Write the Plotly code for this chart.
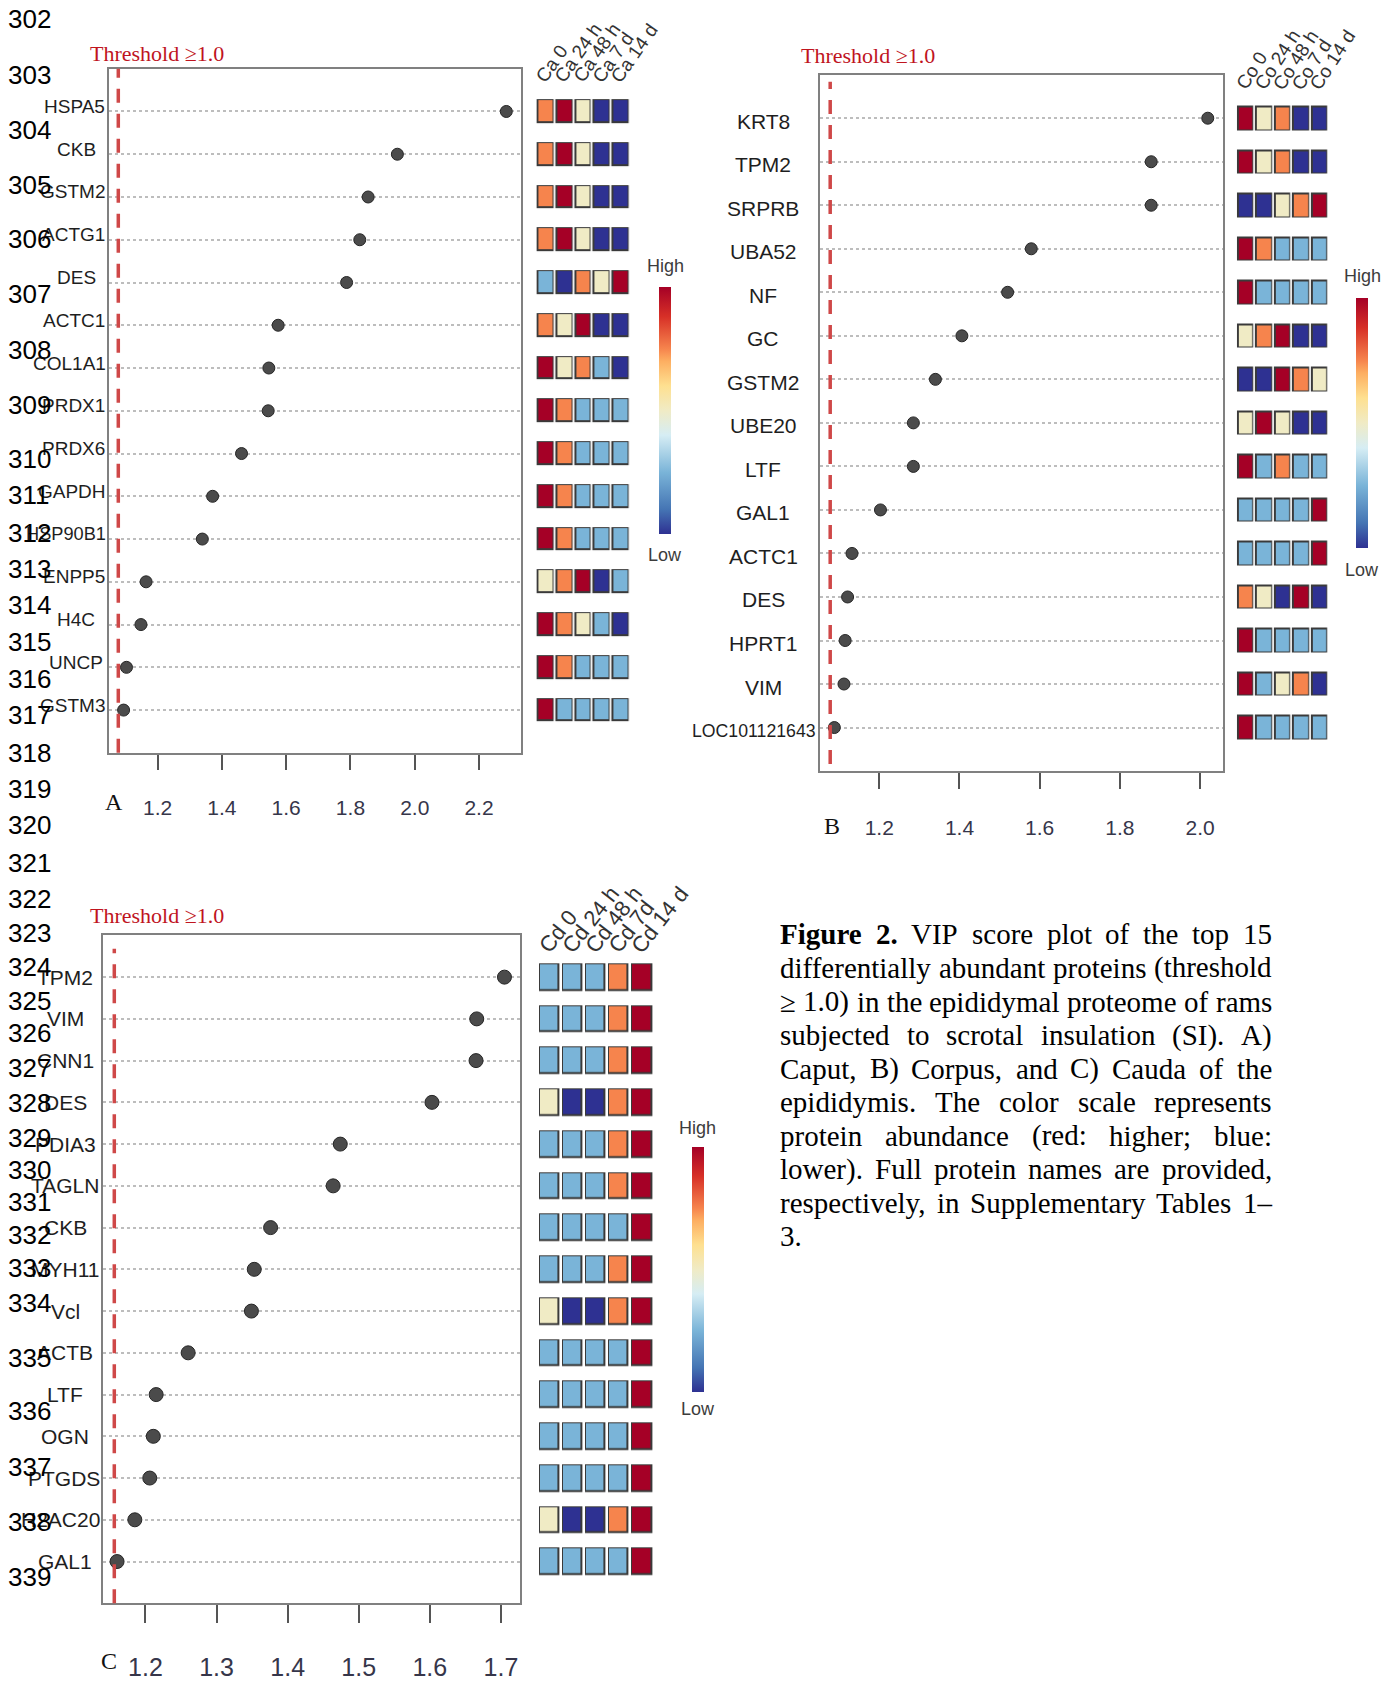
import plotly.graph_objects as go

W, H = 1390, 1681

# ---------------- data ----------------
# abundance levels: -2 lowest (dark blue) ... 2 highest (dark red)
times_caput = ["Ca 0", "Ca 24 h", "Ca 48 h", "Ca 7 d", "Ca 14 d"]
genes_caput = ["HSPA5", "CKB", "GSTM2", "ACTG1", "DES", "ACTC1", "COL1A1", "PRDX1",
               "PRDX6", "GAPDH", "HSP90B1", "ENPP5", "H4C", "UNCP", "GSTM3"]
vip_caput = [2.285, 1.946, 1.855, 1.829, 1.788, 1.575, 1.546, 1.544,
             1.461, 1.371, 1.339, 1.164, 1.148, 1.103, 1.094]
abund_caput = [
    [1, 2, 0, -2, -2], [1, 2, 0, -2, -2], [1, 2, 0, -2, -2], [1, 2, 0, -2, -2],
    [-1, -2, 1, 0, 2], [1, 0, 2, -2, -2], [2, 0, 1, -1, -2], [2, 1, -1, -1, -1],
    [2, 1, -1, -1, -1], [2, 1, -1, -1, -1], [2, 1, -1, -1, -1], [0, 1, 2, -2, -1],
    [2, 1, 0, -1, -2], [2, 1, -1, -1, -1], [2, -1, -1, -1, -1],
]
ticks_caput = [1.2, 1.4, 1.6, 1.8, 2.0, 2.2]

times_corpus = ["Co 0", "Co 24 h", "Co 48 h", "Co 7 d", "Co 14 d"]
genes_corpus = ["KRT8", "TPM2", "SRPRB", "UBA52", "NF", "GC", "GSTM2", "UBE20",
                "LTF", "GAL1", "ACTC1", "DES", "HPRT1", "VIM", "LOC101121643"]
vip_corpus = [2.019, 1.878, 1.878, 1.579, 1.520, 1.406, 1.340, 1.285,
              1.285, 1.203, 1.132, 1.121, 1.115, 1.112, 1.088]
abund_corpus = [
    [2, 0, 1, -2, -2], [2, 0, 1, -2, -2], [-2, -2, 0, 1, 2], [2, 1, -1, -1, -1],
    [2, -1, -1, -1, -1], [0, 1, 2, -2, -2], [-2, -2, 2, 1, 0], [0, 2, 0, -2, -2],
    [2, -1, 1, -1, -1], [-1, -1, -1, -1, 2], [-1, -1, -1, -1, 2], [1, 0, -2, 2, -2],
    [2, -1, -1, -1, -1], [2, -1, 0, 1, -2], [2, -1, -1, -1, -1],
]
ticks_corpus = [1.2, 1.4, 1.6, 1.8, 2.0]

times_cauda = ["Cd 0", "Cd 24 h", "Cd 48 h", "Cd 7d", "Cd 14 d"]
genes_cauda = ["TPM2", "VIM", "CNN1", "DES", "PDIA3", "TAGLN", "CKB", "MYH11",
               "Vcl", "ACTB", "LTF", "OGN", "PTGDS", "H2AC20", "GAL1"]
vip_cauda = [1.705, 1.666, 1.665, 1.603, 1.474, 1.464, 1.376, 1.353,
             1.349, 1.260, 1.215, 1.211, 1.206, 1.185, 1.160]
abund_cauda = [
    [-1, -1, -1, 1, 2], [-1, -1, -1, 1, 2], [-1, -1, -1, 1, 2], [0, -2, -2, 1, 2],
    [-1, -1, -1, 1, 2], [-1, -1, -1, 1, 2], [-1, -1, -1, -1, 2], [-1, -1, -1, 1, 2],
    [0, -2, -2, 1, 2], [-1, -1, -1, -1, 2], [-1, -1, -1, -1, 2], [-1, -1, -1, -1, 2],
    [-1, -1, -1, -1, 2], [0, -2, -2, 1, 2], [-1, -1, -1, -1, 2],
]
ticks_cauda = [1.2, 1.3, 1.4, 1.5, 1.6, 1.7]

threshold_text = "Threshold ≥1.0"

caption_lines = [
    "Figure 2. VIP score plot of the top 15",
    "differentially abundant proteins (threshold",
    "≥ 1.0) in the epididymal proteome of rams",
    "subjected to scrotal insulation (SI). A)",
    "Caput, B) Corpus, and C) Cauda of the",
    "epididymis. The color scale represents",
    "protein abundance (red: higher; blue:",
    "lower). Full protein names are provided,",
    "respectively, in Supplementary Tables 1–",
    "3.",
]
caption_bold_words = 2

line_numbers = list(range(302, 340))
line_number_y = [19.3, 75, 130.8, 185.5, 240, 294.8, 351.6, 406.3, 461, 497.4,
                 535, 571.4, 607.9, 644.3, 681.8, 718.3, 755.8, 792.3, 828.7, 866.2,
                 902.6, 937, 971.3, 1005.6, 1037.8, 1072, 1107.5, 1142.9, 1175, 1207.2,
                 1240.4, 1273.7, 1308, 1363.7, 1417.3, 1473, 1528.8, 1583.4]

# ---------------- styling ----------------
NARROW = "Liberation Sans Narrow, Arial Narrow, Liberation Sans, Arial, sans-serif"
SANS = "Liberation Sans, Arial, sans-serif"
SERIF = "Liberation Serif, Times New Roman, serif"

ABUND_SCALE = [
    [0.0, "#2E3192"], [0.1, "#4575B4"], [0.25, "#7AB4D8"], [0.4, "#D6EDF4"],
    [0.5, "#F0EBC5"], [0.6, "#FEE090"], [0.7, "#FDAE61"], [0.75, "#F6844D"],
    [0.88, "#D73027"], [1.0, "#A50026"],
]

# Arial advance widths (1/1000 em) for sizing the protein names
ARIAL = {"A": 667, "B": 667, "C": 722, "D": 722, "E": 667, "F": 611, "G": 778, "H": 722,
         "I": 278, "J": 500, "K": 667, "L": 556, "M": 833, "N": 722, "O": 778, "P": 667,
         "Q": 778, "R": 722, "S": 667, "T": 611, "U": 722, "V": 667, "W": 944, "X": 667,
         "Y": 667, "Z": 611, "c": 500, "l": 222}


def arial_em(s):
    return sum(556 if ch.isdigit() else ARIAL.get(ch, 600) for ch in s) / 1000


panels = [
    dict(letter="A", genes=genes_caput, vip=vip_caput, abund=abund_caput,
         times=times_caput, ticks=ticks_caput,
         box=(108.5, 521.4, 69, 756), xrange=(1.047, 2.332),
         thr_px=118.3, thr_span=(0.0, 1.0), thr_label=(88.4, 54),
         label_cx=76, label_shift=5, label_fs=19, label_max_w=80, dot=12,
         tile_left=537.3, tile_pitch=18.8, tile_w=17.0, tile_h=24.0,
         cbar=(659, 289, 536), high_y=267, low_y=557,
         col_y=78, col_angle=-55, col_fs=19,
         tick_fs=21, ticklen=15, tick_label_y=805, letter_pos=(113.8, 805)),
    dict(letter="B", genes=genes_corpus, vip=vip_corpus, abund=abund_corpus,
         times=times_corpus, ticks=ticks_corpus,
         box=(819.5, 1222.6, 75, 774.3), xrange=(1.051, 2.056),
         thr_px=830.2, thr_span=(0.01, 0.99), thr_label=(799.4, 56),
         label_cx=763, label_shift=-3, label_fs=21, label_max_w=125, dot=12,
         tile_left=1237.7, tile_pitch=18.4, tile_w=16.7, tile_h=24.7,
         cbar=(1356, 300, 550), high_y=277, low_y=572,
         col_y=85, col_angle=-57, col_fs=19,
         tick_fs=21, ticklen=16, tick_label_y=825, letter_pos=(832, 829)),
    dict(letter="C", genes=genes_cauda, vip=vip_cauda, abund=abund_cauda,
         times=times_cauda, ticks=ticks_cauda,
         box=(102.7, 520.1, 939.3, 1610), xrange=(1.1398, 1.727),
         thr_px=114.3, thr_span=(0.0, 0.98), thr_label=(88.4, 919.3),
         label_cx=65, label_shift=0, label_fs=21, label_max_w=80, dot=14,
         tile_left=539.3, tile_pitch=23.1, tile_w=20.5, tile_h=27.7,
         cbar=(691.5, 1152, 1397), high_y=1133, low_y=1415,
         col_y=951, col_angle=-52, col_fs=22,
         tick_fs=25, ticklen=18, tick_label_y=1667, letter_pos=(109.4, 1668)),
]


def fx(px):
    return px / W


def fy(py):
    return 1 - py / H


fig = go.Figure()
layout = dict(width=W, height=H, margin=dict(l=0, r=0, t=0, b=0),
              paper_bgcolor="white", plot_bgcolor="white", showlegend=False)
annotations = []
shapes = []

for k, p in enumerate(panels):
    sid, hid = 2 * k + 1, 2 * k + 2
    sx = "x" if sid == 1 else f"x{sid}"
    sy = "y" if sid == 1 else f"y{sid}"
    hx, hy = f"x{hid}", f"y{hid}"
    left, right, top, bottom = p["box"]
    n = len(p["genes"])
    row_pitch = (bottom - top) / (n + 1)
    cat_order = list(reversed(p["genes"]))
    ydom = [fy(bottom), fy(top)]

    # VIP dot plot
    fig.add_trace(go.Scatter(
        x=p["vip"], y=p["genes"], mode="markers", xaxis=sx, yaxis=sy,
        marker=dict(size=p["dot"], color="#4B4B4B", line=dict(color="#262626", width=1)),
        cliponaxis=False, hoverinfo="x+y"))

    # abundance tiles: dark frame underneath, coloured cell on top
    xgap_o = p["tile_pitch"] - p["tile_w"]
    ygap_o = row_pitch - p["tile_h"]
    border = 1.5
    fig.add_trace(go.Heatmap(
        z=[[0] * len(p["times"]) for _ in p["genes"]], x=p["times"], y=p["genes"],
        xaxis=hx, yaxis=hy, colorscale=[[0, "#3A3A3A"], [1, "#3A3A3A"]],
        showscale=False, xgap=xgap_o, ygap=ygap_o, hoverinfo="skip"))
    cx, cy0, cy1 = p["cbar"]
    fig.add_trace(go.Heatmap(
        z=p["abund"], x=p["times"], y=p["genes"], xaxis=hx, yaxis=hy,
        colorscale=ABUND_SCALE, zmin=-2, zmax=2,
        xgap=xgap_o + 2 * border, ygap=ygap_o + 2 * border,
        colorbar=dict(x=fx(cx), xanchor="left", y=fy((cy0 + cy1) / 2), yanchor="middle",
                      len=cy1 - cy0, lenmode="pixels", thickness=12, thicknessmode="pixels",
                      xpad=0, ypad=0, outlinewidth=0, borderwidth=0,
                      showticklabels=False, ticks="")))

    standoff = p["tick_label_y"] - bottom - p["ticklen"] - p["tick_fs"] * 0.62
    layout["xaxis" if sid == 1 else f"xaxis{sid}"] = dict(
        domain=[fx(left), fx(right)], range=list(p["xrange"]), anchor=sy,
        tickvals=p["ticks"], tickformat=".1f", ticks="outside", ticklen=p["ticklen"],
        tickwidth=2, tickcolor="#555555", ticklabelstandoff=max(0, int(standoff)),
        tickfont=dict(family=NARROW, size=p["tick_fs"], color="#36364A"),
        showgrid=False, zeroline=False, showline=True, mirror=True,
        linecolor="#808080", linewidth=2, fixedrange=True)
    layout["yaxis" if sid == 1 else f"yaxis{sid}"] = dict(
        domain=ydom, anchor=sx, type="category", categoryorder="array",
        categoryarray=cat_order, range=[-1, n], showticklabels=False, ticks="",
        showgrid=True, gridcolor="#BDBDBD", griddash="dot", gridwidth=1.5,
        zeroline=False, showline=True, mirror=True, linecolor="#808080",
        linewidth=2, fixedrange=True)
    hl = p["tile_left"] - xgap_o / 2
    layout[f"xaxis{hid}"] = dict(
        domain=[fx(hl), fx(hl + p["tile_pitch"] * len(p["times"]))], anchor=hy,
        type="category", categoryorder="array", categoryarray=p["times"],
        range=[-0.5, len(p["times"]) - 0.5], visible=False, fixedrange=True)
    layout[f"yaxis{hid}"] = dict(
        domain=ydom, anchor=hx, type="category", categoryorder="array",
        categoryarray=cat_order, range=[-1, n], visible=False, fixedrange=True)

    # threshold marker and its label
    shapes.append(dict(type="line", xref="paper", yref="paper",
                       x0=fx(p["thr_px"]), x1=fx(p["thr_px"]),
                       y0=ydom[0] + (ydom[1] - ydom[0]) * p["thr_span"][0],
                       y1=ydom[0] + (ydom[1] - ydom[0]) * p["thr_span"][1],
                       line=dict(color="#CF4848", width=3.5, dash="14px,11px")))
    tlx, tly = p["thr_label"]
    annotations.append(dict(text=threshold_text, xref="paper", yref="paper",
                            x=fx(tlx), y=fy(tly), xanchor="left", yanchor="middle",
                            showarrow=False, font=dict(family=SERIF, size=22, color="#C0141E")))

    # protein names, centred left of the frame (long names shrunk and kept off the frame)
    for g in p["genes"]:
        em = arial_em(g)
        fs = min(p["label_fs"], p["label_max_w"] / em)
        half = em * fs / 2
        cxl = min(p["label_cx"], left - 3 - half)
        annotations.append(dict(text=g, xref="paper", yref=sy, x=fx(cxl), y=g,
                                xanchor="center", yanchor="middle", yshift=p["label_shift"],
                                showarrow=False,
                                font=dict(family=NARROW, size=fs, color="#1E1E1E")))

    # rotated condition headers
    hgt = p["col_fs"] * 1.3
    for t in p["times"]:
        annotations.append(dict(text=t, xref=hx, yref="paper", x=t,
                                y=fy(p["col_y"] + 0.6 * p["col_fs"]),
                                xanchor="left", yanchor="bottom", textangle=p["col_angle"],
                                xshift=-(7 + 0.82 * hgt) + 0.55 * p["col_fs"], showarrow=False,
                                font=dict(family=SANS, size=p["col_fs"], color="#333333")))

    # colour key labels
    annotations.append(dict(text="High", xref="paper", yref="paper", x=fx(cx + 6),
                            y=fy(p["high_y"]), xanchor="center", yanchor="middle",
                            showarrow=False, font=dict(family=NARROW, size=18, color="#3C3C3C")))
    annotations.append(dict(text="Low", xref="paper", yref="paper", x=fx(cx + 6),
                            y=fy(p["low_y"]), xanchor="center", yanchor="middle",
                            showarrow=False, font=dict(family=NARROW, size=18, color="#3C3C3C")))

    # panel letter
    lx, ly = p["letter_pos"]
    annotations.append(dict(text=p["letter"], xref="paper", yref="paper", x=fx(lx), y=fy(ly),
                            xanchor="center", yanchor="middle", showarrow=False,
                            font=dict(family=SERIF, size=24, color="#111111")))

# manuscript line numbers
for num, yy in zip(line_numbers, line_number_y):
    annotations.append(dict(text=str(num), xref="paper", yref="paper", x=fx(6), y=fy(yy),
                            xanchor="left", yanchor="middle", showarrow=False,
                            font=dict(family=SANS, size=26, color="#000000")))

# justified caption (Times metrics, units of 1/1000 em)
REG = {" ": 250, "a": 444, "b": 500, "c": 444, "d": 500, "e": 444, "f": 333, "g": 500,
       "h": 500, "i": 278, "j": 278, "k": 500, "l": 278, "m": 778, "n": 500, "o": 500,
       "p": 500, "q": 500, "r": 333, "s": 389, "t": 278, "u": 500, "v": 500, "w": 722,
       "x": 500, "y": 500, "z": 444, "A": 722, "B": 667, "C": 667, "D": 722, "E": 611,
       "F": 556, "G": 722, "H": 722, "I": 333, "J": 389, "K": 722, "L": 611, "M": 889,
       "N": 722, "O": 722, "P": 556, "Q": 722, "R": 667, "S": 556, "T": 611, "U": 722,
       "V": 722, "W": 944, "X": 722, "Y": 722, "Z": 611, ".": 250, ",": 250, ":": 278,
       ";": 278, "(": 333, ")": 333, "–": 500, "≥": 549, "-": 333}
BOLD = {"F": 611, "i": 278, "g": 500, "u": 556, "r": 444, "e": 444, ".": 250}
CAP_FS = 29
CAP_LEFT, CAP_RIGHT = 779, 1271
CAP_TOP, CAP_STEP = 938.3, 33.7


def word_width(word, bold):
    tot = 0
    for ch in word:
        if ch.isdigit():
            tot += 500
        elif bold and ch in BOLD:
            tot += BOLD[ch]
        else:
            tot += REG.get(ch, 500)
    return tot * CAP_FS / 1000


word_index = 0
for li, line in enumerate(caption_lines):
    words = line.split(" ")
    flags = []
    for w in words:
        flags.append(word_index < caption_bold_words)
        word_index += 1
    widths = [word_width(w, b) for w, b in zip(words, flags)]
    last = li == len(caption_lines) - 1
    if len(words) > 1 and not last:
        gap = (CAP_RIGHT - CAP_LEFT - sum(widths)) / (len(words) - 1)
    else:
        gap = REG[" "] * CAP_FS / 1000
    xpos = CAP_LEFT
    for w, b, wd in zip(words, flags, widths):
        annotations.append(dict(text=f"<b>{w}</b>" if b else w, xref="paper", yref="paper",
                                x=fx(xpos), y=fy(CAP_TOP + li * CAP_STEP),
                                xanchor="left", yanchor="middle", showarrow=False,
                                borderpad=0, font=dict(family=SERIF, size=CAP_FS, color="#000000")))
        xpos += wd + gap

layout["annotations"] = annotations
layout["shapes"] = shapes
fig.update_layout(**layout)
fig.write_html("out.html")
